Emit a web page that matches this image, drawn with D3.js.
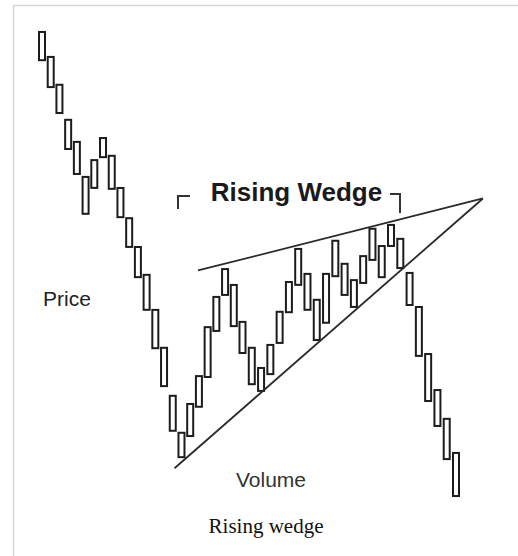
<!DOCTYPE html>
<html>
<head>
<meta charset="utf-8">
<script src="https://cdn.jsdelivr.net/npm/d3@7"></script>
<style>
    body { margin: 0; background: #fff; }
    svg { display: block; }
</style>
</head>
<body>
<svg id="wedgeChart"></svg>
<script>
// session highs and lows, price units (0 - 100)
var highs = [99.8, 94.6, 88.8, 81.5, 76.9, 69.6, 73.1, 77.7, 74.0, 67.3, 61.0, 55.0,
    49.2, 41.9, 34.0, 24.0, 16.3, 22.3, 28.1, 38.3, 44.6, 50.4, 47.1, 39.4,
    34.0, 29.8, 34.6, 41.5, 47.7, 54.6, 49.4, 44.0, 49.4, 56.3, 51.5, 48.1,
    53.1, 58.8, 55.2, 59.6, 56.7, 49.6, 42.5, 32.7, 25.2, 19.2, 12.1];
var lows = [93.5, 87.9, 82.5, 75.0, 69.8, 61.5, 66.9, 73.3, 66.7, 60.8, 54.6, 48.3,
    41.5, 33.5, 25.6, 16.3, 10.8, 15.2, 21.3, 27.5, 37.1, 44.6, 38.1, 32.5,
    26.0, 24.6, 28.1, 34.6, 41.0, 46.7, 41.5, 35.2, 38.8, 48.5, 44.6, 42.1,
    47.1, 51.9, 48.3, 54.8, 50.2, 42.5, 31.9, 22.5, 17.3, 10.4, 2.7];

// trend lines as [session, price] pairs
var upperTrend = [[17.9, 49.9], [48.9, 64.9]];
var lowerTrend = [[15.2, 8.7], [48.9, 64.9]];

var chartTitle = "Rising Wedge";
var priceLabel = "Price";
var volumeLabel = "Volume";
var caption = "Rising wedge";

function WedgeChart(svgElementID) {

    var width = 518;
    var height = 556;
    var ink = "#1c1c1c";
    var barHalf = 4;

    var sessions = d3.range(highs.length).map(function (i) {
        return { index: i, high: highs[i], low: lows[i] };
    });

    // ----------------------------------------------------

    var x = d3.scaleLinear()
        .domain([0, 23, 46])
        .range([42, 242.5, 456]);

    var y = d3.scaleLinear()
        .domain([0, 100])
        .range([510, 30]);

    var chart = d3.select(svgElementID)
        .attr("width", width)
        .attr("height", height);

    chart.append("rect")
        .attr("width", width)
        .attr("height", height)
        .attr("fill", "#fff");

    // thumbnail frame
    chart.append("path")
        .attr("d", "M13.5," + height + "V5.5H" + width)
        .attr("fill", "none")
        .attr("stroke", "#d6d6d6")
        .attr("stroke-width", 1.5);

    // --------------------------------------------------------------------------

    chart.append("g")
        .selectAll("rect")
        .data(sessions)
        .enter().append("rect")
        .attr("x", function (d) { return x(d.index) - barHalf + 1; })
        .attr("y", function (d) { return y(d.high) + 1; })
        .attr("width", barHalf * 2 - 2)
        .attr("height", function (d) { return y(d.low) - y(d.high) - 2; })
        .attr("fill", "#fff")
        .attr("stroke", ink)
        .attr("stroke-width", 2);

    // --------------------------------------------------------------------------

    var trendLine = d3.line()
        .x(function (d) { return x(d[0]); })
        .y(function (d) { return y(d[1]); });

    [upperTrend, lowerTrend].forEach(function (t) {
        chart.append("path")
            .attr("d", trendLine(t))
            .attr("fill", "none")
            .attr("stroke", "#2a2a2a")
            .attr("stroke-width", 1.8);
    });

    // --------------------------------------------------------------------------

    chart.append("text")
        .attr("x", 296.5)
        .attr("y", 201)
        .attr("text-anchor", "middle")
        .style("font-family", "'Liberation Sans', Arial, sans-serif")
        .style("font-weight", "bold")
        .style("font-size", "26px")
        .attr("fill", "#1a1a1a")
        .text(chartTitle);

    chart.append("path")
        .attr("d", "M178,209V196H190M390,194H400V213")
        .attr("fill", "none")
        .attr("stroke", "#333")
        .attr("stroke-width", 2);

    chart.append("text")
        .attr("x", 43)
        .attr("y", 306)
        .style("font-family", "'Liberation Sans', Arial, sans-serif")
        .style("font-size", "21px")
        .attr("fill", "#222")
        .text(priceLabel);

    chart.append("text")
        .attr("x", 271)
        .attr("y", 487)
        .attr("text-anchor", "middle")
        .style("font-family", "'Liberation Sans', Arial, sans-serif")
        .style("font-size", "21px")
        .attr("fill", "#333")
        .text(volumeLabel);

    chart.append("text")
        .attr("x", 266)
        .attr("y", 533)
        .attr("text-anchor", "middle")
        .style("font-family", "'Liberation Serif', 'Times New Roman', serif")
        .style("font-size", "21px")
        .attr("fill", "#111")
        .text(caption);
}

WedgeChart("#wedgeChart");
</script>
</body>
</html>
